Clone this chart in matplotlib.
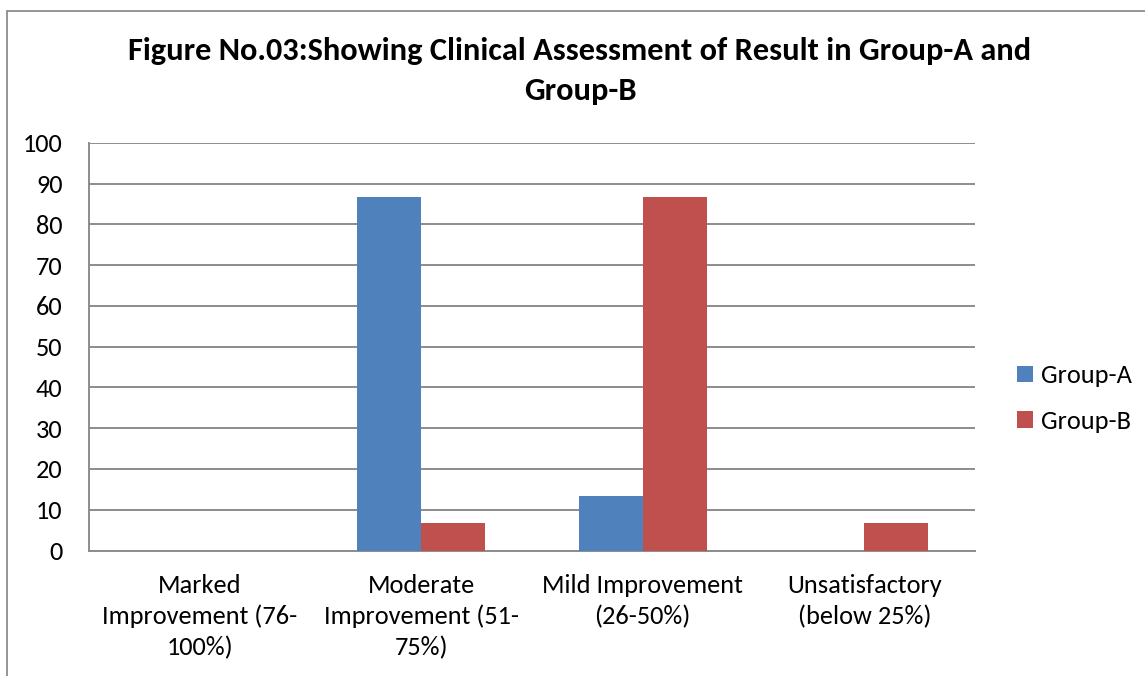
import matplotlib
matplotlib.use('Agg')
import matplotlib.pyplot as plt
from matplotlib.patches import Rectangle
import numpy as np

# chart data
categories = ['Marked\nImprovement (76-\n100%)',
              'Moderate\nImprovement (51-\n75%)',
              'Mild Improvement\n(26-50%)',
              'Unsatisfactory\n(below 25%)']
group_a = [0, 86.67, 13.33, 0]
group_b = [0, 6.67, 86.67, 6.67]
yticks = np.arange(0, 101, 10)
title = 'Figure No.03:Showing Clinical Assessment of Result in Group-A and\nGroup-B'

plt.rcParams['font.family'] = ['Carlito', 'DejaVu Sans']

fig = plt.figure(figsize=(11.45, 6.76), dpi=100)
W, H = 1145., 676.

# outer chart border (right/bottom run off the picture)
fig.patches.append(Rectangle((7/W, -0.05), 1.2, 1 - 11/H + 0.05, transform=fig.transFigure,
                             fill=False, edgecolor='#8c8c8c', linewidth=1.3))

ax = fig.add_axes([89/W, 1 - 550.5/H, (975-89)/W, (550.5-143)/H])

x = np.arange(len(categories))
bw = 0.289
ax.bar(x - bw/2, group_a, bw, color='#4F81BD', label='Group-A', zorder=3)
ax.bar(x + bw/2, group_b, bw, color='#C0504D', label='Group-B', zorder=3)

ax.set_xlim(-0.5, len(categories) - 0.5)
ax.set_ylim(0, 100)
ax.set_yticks(yticks)
ax.set_xticks(x)
ax.set_xticklabels(categories, linespacing=1.38)
ax.tick_params(axis='y', length=0, pad=19, labelsize=19)
ax.tick_params(axis='x', length=0, pad=17, labelsize=19)
ax.yaxis.grid(True, color='#8c8c8c', linewidth=1.4, zorder=0)
ax.set_axisbelow(True)
for s in ['top', 'right']:
    ax.spines[s].set_visible(False)
for s in ['left', 'bottom']:
    ax.spines[s].set_color('#8c8c8c')
    ax.spines[s].set_linewidth(1.4)

fig.text(580/W, 1 - 71/H, title, ha='center', va='center', fontsize=23.3,
         fontweight='bold', linespacing=1.55)

fig.legend(loc='center left', bbox_to_anchor=(1017/W, 1 - 398.5/H), frameon=False,
           fontsize=19, handlelength=0.6, handleheight=0.6, handletextpad=0.3,
           labelspacing=0.85, borderpad=0, borderaxespad=0)

fig.savefig('out.png', dpi=100)
